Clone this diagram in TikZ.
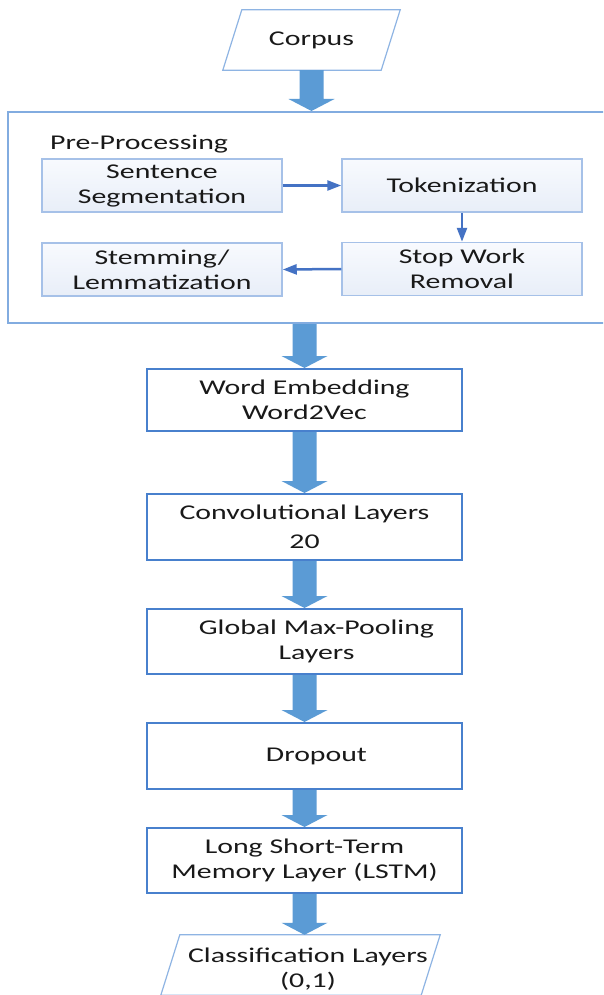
\documentclass[tikz,border=0pt]{standalone}
\usepackage{fontspec}
\setmainfont[FakeStretch=1.42]{Carlito}
\usetikzlibrary{arrows.meta,calc}
\definecolor{boxblue}{RGB}{72,128,205}
\definecolor{arrowfill}{RGB}{91,155,213}
\definecolor{lightline}{RGB}{142,180,227}
\definecolor{bigline}{RGB}{130,172,224}
\definecolor{innerline}{RGB}{166,193,232}
\definecolor{innerfillA}{RGB}{248,250,254}
\definecolor{innerfillB}{RGB}{232,238,248}
\definecolor{smallarrow}{RGB}{68,114,196}
\definecolor{txt}{RGB}{25,25,25}
\newcommand{\blockarr}[2]{%
  \path[fill=arrowfill] let \p1=#1, \p2=#2 in
    (\x1-12pt,\y1) -- (\x1+12pt,\y1) -- (\x1+12pt,\y2+12pt) -- (\x1+23pt,\y2+12pt)
    -- (\x1,\y2) -- (\x1-23pt,\y2+12pt) -- (\x1-12pt,\y2+12pt) -- cycle;}
\begin{document}
\begin{tikzpicture}[x=1pt,y=-1pt,
  every node/.style={font=\fontsize{21}{25}\selectfont, text=txt, inner sep=0pt, align=center},
  mainbox/.style={draw=boxblue, line width=2pt, fill=white, minimum width=315pt},
  innerbox/.style={draw=innerline, line width=1.5pt, top color=innerfillA, bottom color=innerfillB,
    minimum width=240pt, minimum height=53pt},
  iobox/.style={minimum height=60pt},
  smallarr/.style={draw=smallarrow, line width=2.5pt, -{Triangle[length=14pt,width=10pt]}},
  frameline/.style={draw=lightline, line width=1.2pt}
]
\useasboundingbox (0,0) rectangle (603,995);
\clip (0,0) rectangle (603,995);
\fill[white] (0,0) rectangle (603,995);

% Corpus
\node[iobox, minimum width=158pt] (corpus) at (311.5,40) {Corpus};
\path[frameline] ([xshift=9.5pt]corpus.north west) -- ([xshift=9.5pt]corpus.north east)
  -- ([xshift=-9.5pt]corpus.south east) -- ([xshift=-9.5pt]corpus.south west) -- cycle;

% Pre-processing frame
\node[draw=bigline, line width=2pt, minimum width=602pt, minimum height=211pt] (pre) at (309,217.5) {};
\node[anchor=base west] (pretitle) at (50,150) {Pre-Processing};
\node[innerbox] (sent) at (162,185.5) {Sentence\\Segmentation};
\node[innerbox] (tok) at (462,185.5) {Tokenization};
\node[innerbox] (stem) at (162,269.5) {Stemming/\\Lemmatization};
\node[innerbox] (stop) at (462,269) {Stop Work\\Removal};
\draw[smallarr] (sent.east) -- (tok.west);
\draw[smallarr] (tok.south) -- (stop.north);
\draw[smallarr] (stop.west) -- (stem.east);

% Main pipeline
\node[mainbox, minimum height=62pt] (we) at (304.5,400) {Word Embedding\\Word2Vec};
\node[mainbox, minimum height=66pt] (conv) at (304.5,527) {Convolutional Layers\\[4pt]20};
\node[mainbox, minimum height=65pt] (gmp) at (304.5,641.5) {\hspace*{24pt}Global Max-Pooling\\\hspace*{24pt}Layers};
\node[mainbox, minimum height=66pt] (drop) at (304.5,756) {\hspace*{24pt}Dropout};
\node[mainbox, minimum height=65pt] (lstm) at (304.5,860.5) {Long Short-Term\\Memory Layer (LSTM)};

% Classification
\node[iobox, minimum width=260pt] (cls) at (300.5,965) {};
\path[frameline] ([xshift=9.5pt]cls.north west) -- ([xshift=9.5pt]cls.north east)
  -- ([xshift=-9.5pt]cls.south east) -- ([xshift=-9.5pt]cls.south west) -- cycle;
\node (clstext) at (308,969) {Classification Layers\\(0,1)};

% Block arrows
\blockarr{(corpus.south)}{(corpus.south |- pre.north)}
\blockarr{(pre.south -| we.north)}{(we.north)}
\blockarr{(we.south)}{(conv.north)}
\blockarr{(conv.south)}{(gmp.north)}
\blockarr{(gmp.south)}{(drop.north)}
\blockarr{(drop.south)}{(lstm.north)}
\blockarr{(lstm.south)}{(lstm.south |- cls.north)}
\end{tikzpicture}
\end{document}
